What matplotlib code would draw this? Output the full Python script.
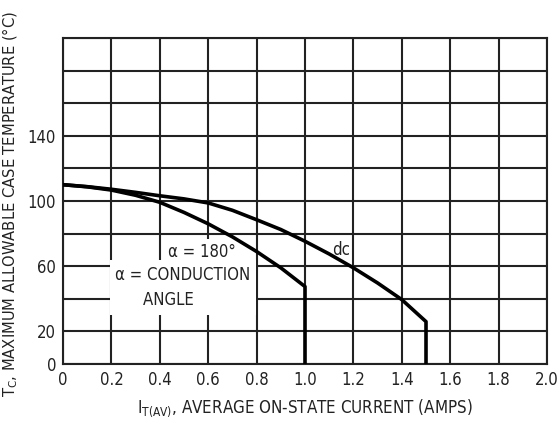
import matplotlib
matplotlib.use("Agg")
import matplotlib.pyplot as plt
import numpy as np

plt.rcParams['font.family'] = ['DejaVu Sans']
plt.rcParams['font.stretch'] = 'condensed'

# data
x_180 = [0.0, 0.1, 0.2, 0.3, 0.4, 0.5, 0.6, 0.7, 0.8, 0.9, 1.0, 1.0]
y_180 = [110, 108.7, 106.7, 103.5, 99.2, 93, 86, 78, 69, 59, 47.5, 0]
x_dc = [0.0, 0.1, 0.2, 0.3, 0.4, 0.5, 0.6, 0.7, 0.8, 0.9, 1.0, 1.1, 1.2, 1.3, 1.4, 1.5, 1.5]
y_dc = [110, 108.8, 107.2, 105.3, 103.2, 101.3, 98.8, 94.3, 88.5, 82.5, 75.3, 67.5, 59, 49.7, 39.5, 26, 0]
x_ticks = [0, 0.2, 0.4, 0.6, 0.8, 1.0, 1.2, 1.4, 1.6, 1.8, 2.0]
x_ticklabels = ['0', '0.2', '0.4', '0.6', '0.8', '1.0', '1.2', '1.4', '1.6', '1.8', '2.0']
y_grid = [0, 20, 40, 60, 80, 100, 120, 140, 160, 180, 200]
y_labeled = [0, 20, 60, 100, 140]

fig = plt.figure(figsize=(5.6, 4.24), dpi=100)
ax = fig.add_axes([0.1125, 0.1415, 0.8643, 0.7689])
ax.set_xlim(0, 2.0)
ax.set_ylim(0, 200)
ax.set_xticks(x_ticks)
ax.set_xticklabels(x_ticklabels)
ax.set_yticks(y_grid)
ax.set_yticklabels([str(v) if v in y_labeled else '' for v in y_grid])
ax.tick_params(length=0, labelsize=12, pad=5, colors='#222222')
ax.set_axisbelow(True)
ax.grid(True, color='#222222', linewidth=1.5)
for s in ax.spines.values():
    s.set_color('#222222')
    s.set_linewidth(1.5)

ax.plot(x_180, y_180, color='black', linewidth=2.6, zorder=5, solid_joinstyle='round')
ax.plot(x_dc, y_dc, color='black', linewidth=2.6, zorder=5, solid_joinstyle='round')

ax.text(0.575, 68.5, 'α = 180°', ha='center', va='center', fontsize=12, color='#222222',
        zorder=4, bbox=dict(facecolor='white', edgecolor='none', pad=3))
ax.text(0.495, 47, 'α = CONDUCTION\nANGLE      ', ha='center', va='center', fontsize=12,
        color='#222222', multialignment='center', linespacing=1.55,
        zorder=4, bbox=dict(facecolor='white', edgecolor='none', pad=4))
ax.text(1.15, 70, 'dc', ha='center', va='center', fontsize=12, color='#222222', zorder=4)

ax.set_xlabel(r'I$_{\mathregular{T(AV)}}$, AVERAGE ON-STATE CURRENT (AMPS)', fontsize=12.2,
              color='#222222', labelpad=6)
ax.set_ylabel(r'T$_{\mathregular{C}}$, MAXIMUM ALLOWABLE CASE TEMPERATURE (°C)', fontsize=11.8,
              color='#222222', labelpad=6)
ax.yaxis.set_label_coords(-0.088, 0.49)

fig.savefig('out.png', dpi=100)
